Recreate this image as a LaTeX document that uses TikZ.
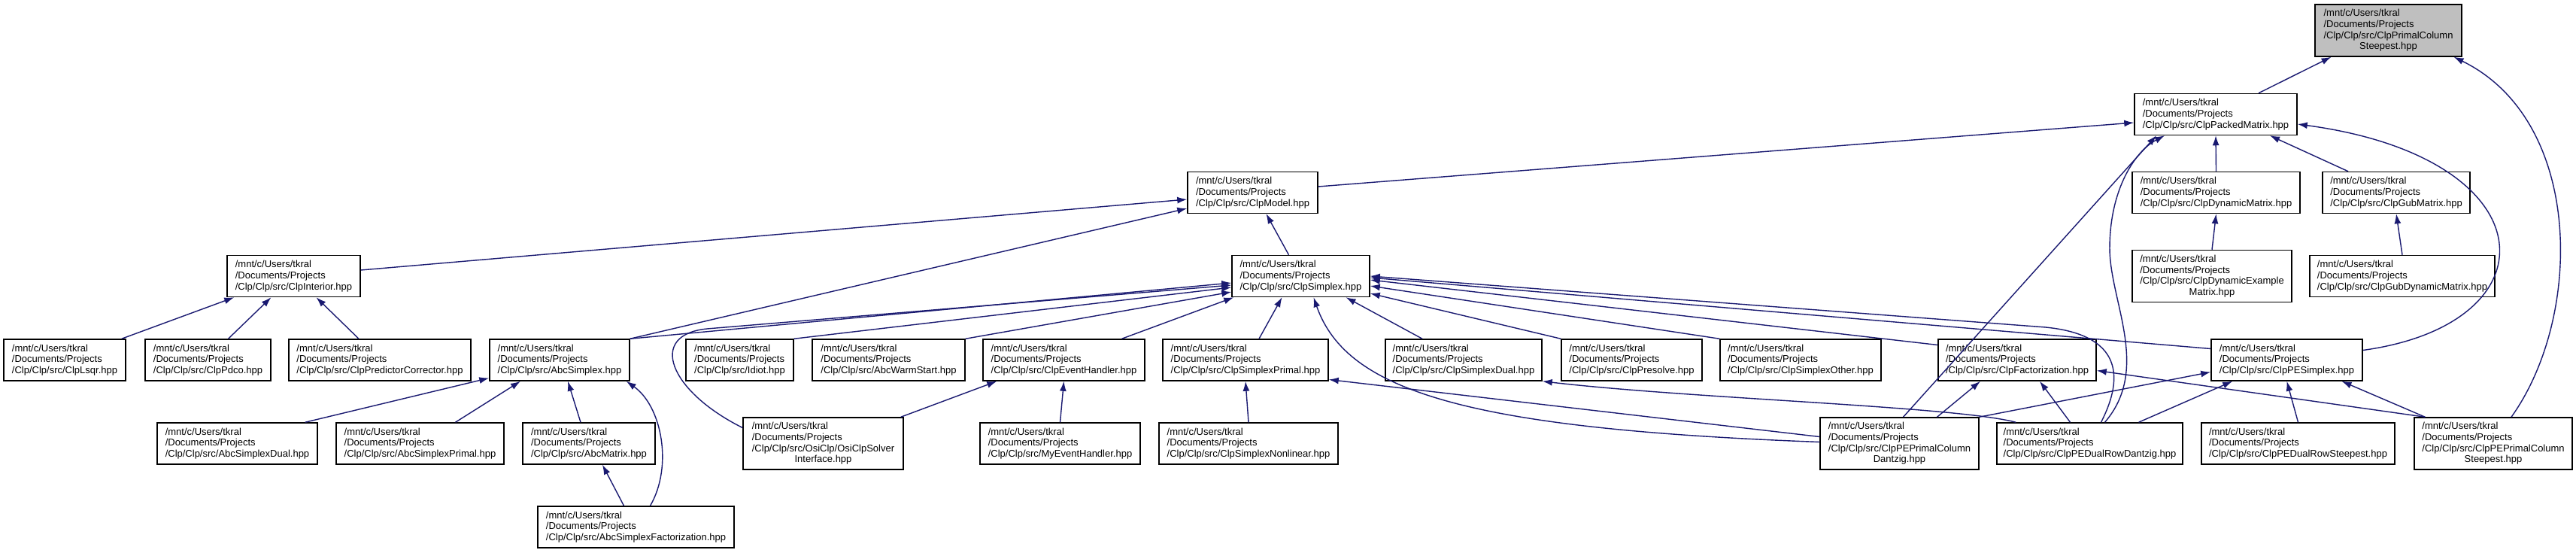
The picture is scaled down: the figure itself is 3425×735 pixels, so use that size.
\documentclass[tikz,border=0pt]{standalone}
\usepackage{fontspec}
\setmainfont{Liberation Sans}
\usetikzlibrary{arrows.meta}
\definecolor{edgeblue}{HTML}{191970}
\definecolor{curgray}{HTML}{BFBFBF}
\newcommand{\clp}[1]{/mnt/c/Users/tkral\\/Documents/Projects\\/Clp/Clp/src/#1}
\newcommand{\ctrline}[1]{\hspace*{0pt plus 1fill}#1\hspace*{0pt plus 1fill}}

\begin{document}
\begin{tikzpicture}[
  x=1pt, y=-1pt,
  font=\fontsize{13}{14.7}\selectfont,
  file/.style={draw, line width=1.5pt, fill=white, align=left, inner xsep=6pt, inner ysep=4pt, minimum height=55pt},
  file4/.style={file, minimum height=69pt},
  cur/.style={file4, fill=curgray},
  inc/.style={-{Latex[length=13pt,width=9pt]}, draw=edgeblue, line width=1.4pt}
]
\def\ra{40.5}\def\rb{152}\def\rc{256}\def\rd{367}
\def\re{478.5}\def\rf{589.5}\def\rg{700.5}
\useasboundingbox (0,0) rectangle (3425,735);

% ================= FILES =================
\node[cur, minimum width=195pt]  (top) at (3175.5,\ra) {\clp{ClpPrimalColumn\\\ctrline{Steepest.hpp}}};
\node[file, minimum width=216pt] (pm)  at (2946,\rb) {\clp{ClpPackedMatrix.hpp}};

\node[file, minimum width=173pt] (model) at (1665.5,\rc) {\clp{ClpModel.hpp}};
\node[file, minimum width=223pt] (dynm)  at (2946.5,\rc) {\clp{ClpDynamicMatrix.hpp}};
\node[file, minimum width=196pt] (gub)   at (3186,\rc) {\clp{ClpGubMatrix.hpp}};

\node[file, minimum width=177pt]  (interior) at (390.5,\rd) {\clp{ClpInterior.hpp}};
\node[file, minimum width=183pt]  (simplex)  at (1729.5,\rd) {\clp{ClpSimplex.hpp}};
\node[file4, minimum width=212pt] (dynex)    at (2941,\rd) {\clp{ClpDynamicExample\\\ctrline{Matrix.hpp}}};
\node[file, minimum width=246pt]  (gubdyn)   at (3194,\rd) {\clp{ClpGubDynamicMatrix.hpp}};

\node[file, minimum width=162pt] (lsqr)       at (86,\re) {\clp{ClpLsqr.hpp}};
\node[file, minimum width=167pt] (pdco)       at (276.5,\re) {\clp{ClpPdco.hpp}};
\node[file, minimum width=242pt] (predcorr)   at (505,\re) {\clp{ClpPredictorCorrector.hpp}};
\node[file, minimum width=186pt] (abcsimplex) at (744,\re) {\clp{AbcSimplex.hpp}};
\node[file, minimum width=143pt] (idiot)      at (983.5,\re) {\clp{Idiot.hpp}};
\node[file, minimum width=203pt] (warm)       at (1181.5,\re) {\clp{AbcWarmStart.hpp}};
\node[file, minimum width=215pt] (event)      at (1414.5,\re) {\clp{ClpEventHandler.hpp}};
\node[file, minimum width=220pt] (sprimal)    at (1656,\re) {\clp{ClpSimplexPrimal.hpp}};
\node[file, minimum width=208pt] (sdual)      at (1946,\re) {\clp{ClpSimplexDual.hpp}};
\node[file, minimum width=187pt] (presolve)   at (2169.5,\re) {\clp{ClpPresolve.hpp}};
\node[file, minimum width=214pt] (other)      at (2394,\re) {\clp{ClpSimplexOther.hpp}};
\node[file, minimum width=210pt] (fact)       at (2682,\re) {\clp{ClpFactorization.hpp}};
\node[file, minimum width=201pt] (pesimplex)  at (3040.5,\re) {\clp{ClpPESimplex.hpp}};

\node[file, minimum width=213pt]  (abcdual)   at (315.5,\rf) {\clp{AbcSimplexDual.hpp}};
\node[file, minimum width=223pt]  (abcprimal) at (558.5,\rf) {\clp{AbcSimplexPrimal.hpp}};
\node[file, minimum width=176pt]  (abcmatrix) at (783,\rf) {\clp{AbcMatrix.hpp}};
\node[file4, minimum width=213pt] (osiclp)    at (1094.5,\rf) {\clp{OsiClp/OsiClpSolver\\\ctrline{Interface.hpp}}};
\node[file, minimum width=213pt]  (myevent)   at (1409.5,\rf) {\clp{MyEventHandler.hpp}};
\node[file, minimum width=238pt]  (nonlin)    at (1660,\rf) {\clp{ClpSimplexNonlinear.hpp}};
\node[file4, minimum width=211pt] (pepcd)     at (2525.5,\rf) {\clp{ClpPEPrimalColumn\\\ctrline{Dantzig.hpp}}};
\node[file, minimum width=247pt]  (pedrd)     at (2778.5,\rf) {\clp{ClpPEDualRowDantzig.hpp}};
\node[file, minimum width=257pt]  (pedrs)     at (3055.5,\rf) {\clp{ClpPEDualRowSteepest.hpp}};
\node[file4, minimum width=210pt] (pepcs)     at (3315,\rf) {\clp{ClpPEPrimalColumn\\\ctrline{Steepest.hpp}}};

\node[file, minimum width=261pt] (abcfact) at (845.5,\rg) {\clp{AbcSimplexFactorization.hpp}};

% ================= INCLUDES =================
% ClpPrimalColumnSteepest
\draw[inc] ([xshift=57pt]pm.north) -- ([xshift=-76pt]top.south);
\draw[inc] ([xshift=24pt]pepcs.north) .. controls (3435,420) and (3435,160) .. ([xshift=87pt]top.south);
% ClpPackedMatrix and its matrices
\draw[inc] ([yshift=8pt]model.east) -- ([yshift=-11pt]pm.west);
\draw[inc] (dynm.north) -- (pm.south);
\draw[inc] ([xshift=-64pt]gub.north) -- ([xshift=72pt]pm.south);
\draw[inc] ([xshift=5pt]pepcd.north) -- ([xshift=-79pt]pm.south);
\draw[inc] ([xshift=20pt]pedrd.north) .. controls (2860,490) and (2805,400) .. (2805,330) .. controls (2805,250) and (2840,200) .. ([xshift=-68pt]pm.south);
\draw[inc] ([yshift=13pt]pesimplex.east) .. controls (3400,430) and (3390,210) .. ([yshift=-13pt]pm.east);
\draw[inc] (dynex.north) -- (dynm.south);
\draw[inc] (gubdyn.north) -- (gub.south);
% ClpModel
\draw[inc] ([xshift=-16pt]simplex.north) -- ([xshift=18pt]model.south);
\draw[inc] ([yshift=8pt]interior.east) -- ([yshift=-9pt]model.west);
\draw[inc] (abcsimplex.north east) -- ([yshift=-21pt]model.west);
% ClpInterior
\draw[inc] ([xshift=-6pt]lsqr.north east) -- ([xshift=10pt]interior.south west);
\draw[inc] ([xshift=27pt]pdco.north) -- ([xshift=-30pt]interior.south);
\draw[inc] ([xshift=-28pt]predcorr.north) -- ([xshift=30pt]interior.south);
% ClpSimplex
\draw[inc] (abcsimplex.north east) -- ([yshift=-9pt]simplex.west);
\draw[inc] ([yshift=21pt]osiclp.west) .. controls (890,520) and (860,445) .. (940,437) -- ([yshift=-12pt]simplex.west);
\draw[inc] (idiot.north east) -- ([yshift=-15pt]simplex.west);
\draw[inc] (warm.north east) -- ([yshift=-21pt]simplex.west);
\draw[inc] ([xshift=77pt]event.north) -- ([xshift=3pt]simplex.south west);
\draw[inc] ([xshift=18pt]sprimal.north) -- ([xshift=-25pt]simplex.south);
\draw[inc] ([xshift=-55pt]sdual.north) -- ([xshift=60pt]simplex.south);
\draw[inc] (presolve.north west) -- ([yshift=-23pt]simplex.east);
\draw[inc] (other.north west) -- ([yshift=-13pt]simplex.east);
\draw[inc] ([yshift=20pt]fact.west) -- ([yshift=-5pt]simplex.east);
\draw[inc] ([yshift=15pt]pesimplex.west) -- ([yshift=-2pt]simplex.east);
\draw[inc] ([xshift=15pt]pedrd.north) .. controls (2825,500) and (2820,445) .. (2720,435) -- (simplex.east);
\draw[inc] ([yshift=2pt]pepcd.west) .. controls (1950,570) and (1790,520) .. ([xshift=17pt]simplex.south);
% AbcSimplex
\draw[inc] ([xshift=-17pt]abcdual.north east) -- ([yshift=-24pt]abcsimplex.west);
\draw[inc] ([xshift=47pt]abcprimal.north) -- ([xshift=-52pt]abcsimplex.south);
\draw[inc] ([xshift=-11pt]abcmatrix.north) -- ([xshift=11pt]abcsimplex.south);
\draw[inc] ([xshift=19pt]abcfact.north) .. controls (895,620) and (880,540) .. ([xshift=-5pt]abcsimplex.south east);
\draw[inc] ([xshift=-16pt]abcfact.north) -- ([xshift=18pt]abcmatrix.south);
% ClpEventHandler, ClpSimplexPrimal, ClpSimplexDual
\draw[inc] ([xshift=-4pt]osiclp.north east) -- ([xshift=19pt]event.south west);
\draw[inc] (myevent.north) -- (event.south);
\draw[inc] (nonlin.north) -- (sprimal.south);
\draw[inc] ([yshift=9pt]pepcd.west) -- ([yshift=-26pt]sprimal.east);
\draw[inc] ([xshift=26pt]pedrd.north west) .. controls (2600,540) and (2250,530) .. (sdual.south east);
% ClpFactorization, ClpPESimplex
\draw[inc] ([xshift=50pt]pepcd.north) -- ([xshift=-49pt]fact.south);
\draw[inc] ([xshift=-26pt]pedrd.north) -- ([xshift=30pt]fact.south);
\draw[inc] ([xshift=15pt]pepcs.north west) -- ([yshift=-14pt]fact.east);
\draw[inc] (pepcd.north east) -- ([yshift=-16pt]pesimplex.west);
\draw[inc] ([xshift=65pt]pedrd.north) -- ([xshift=29pt]pesimplex.south west);
\draw[inc] (pedrs.north) -- (pesimplex.south);
\draw[inc] ([xshift=15pt]pepcs.north west) -- ([xshift=73pt]pesimplex.south);

\end{tikzpicture}
\end{document}
